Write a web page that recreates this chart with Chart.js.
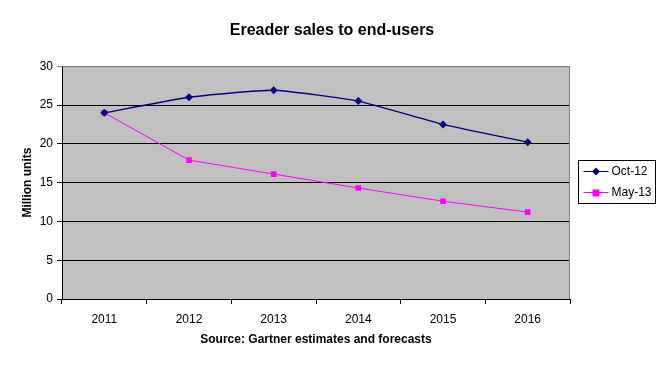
<!DOCTYPE html>
<html>
<head>
<meta charset="utf-8">
<script src="https://cdn.jsdelivr.net/npm/chart.js@4/dist/chart.umd.min.js"></script>
<style>
  html, body { margin: 0; padding: 0; background: #fff; }
  #wrap { width: 664px; height: 365px; }
</style>
</head>
<body>
<div id="wrap"><canvas id="ereader" width="664" height="365"></canvas></div>
<script>
// data
const years = ['2011', '2012', '2013', '2014', '2015', '2016'];
const oct12 = [24.0, 26.0, 26.9, 25.5, 22.5, 20.2];
const may13 = [24.0, 17.9, 16.1, 14.3, 12.6, 11.2];
const seriesNames = ['Oct-12', 'May-13'];
const seriesColors = ['#000080', '#FF00FF'];
const markerShapes = ['rectRot', 'rect'];

const font = '"Liberation Sans", Arial, sans-serif';

// gray plot background + frame, and the boxed legend on the right
const excelLook = {
  id: 'excelLook',
  beforeDraw(chart) {
    const a = chart.chartArea, c = chart.ctx;
    c.save();
    c.fillStyle = '#C0C0C0';
    c.fillRect(a.left, a.top, a.right - a.left, a.bottom - a.top);
    c.restore();
  },
  afterDatasetsDraw(chart) {
    const a = chart.chartArea, c = chart.ctx;
    c.save();
    c.strokeStyle = '#808080';
    c.lineWidth = 1;
    c.beginPath();
    c.moveTo(a.left, a.top + 0.5);
    c.lineTo(a.right - 0.5, a.top + 0.5);
    c.lineTo(a.right - 0.5, a.bottom);
    c.stroke();
    c.restore();
  },
  afterDraw(chart) {
    const c = chart.ctx;
    const bx = 578.5, by = 160.5, bw = 77, bh = 43;
    c.save();
    c.strokeStyle = '#000';
    c.lineWidth = 1;
    c.strokeRect(bx, by, bw, bh);
    c.font = '12px ' + font;
    c.textBaseline = 'middle';
    seriesNames.forEach((name, i) => {
      const y = by + 11 + i * 21;
      c.strokeStyle = seriesColors[i];
      c.beginPath();
      c.moveTo(bx + 5, y);
      c.lineTo(bx + 30, y);
      c.stroke();
      c.fillStyle = seriesColors[i];
      if (markerShapes[i] === 'rect') {
        c.fillRect(bx + 14, y - 3, 7, 7);
      } else {
        c.beginPath();
        c.moveTo(bx + 17.5, y - 4);
        c.lineTo(bx + 21.5, y);
        c.lineTo(bx + 17.5, y + 4);
        c.lineTo(bx + 13.5, y);
        c.closePath();
        c.fill();
      }
      c.fillStyle = '#000';
      c.fillText(name, bx + 33, y);
    });
    c.restore();
  }
};

new Chart(document.getElementById('ereader').getContext('2d'), {
  type: 'line',
  data: {
    labels: years,
    datasets: [{
      label: seriesNames[0],
      data: oct12,
      borderColor: seriesColors[0],
      backgroundColor: seriesColors[0],
      borderWidth: 1.3,
      tension: 0.15,
      pointStyle: markerShapes[0],
      pointRadius: 4,
      pointBorderWidth: 0
    }, {
      label: seriesNames[1],
      data: may13,
      borderColor: seriesColors[1],
      backgroundColor: seriesColors[1],
      borderWidth: 1,
      tension: 0,
      pointStyle: markerShapes[1],
      pointRadius: 4,
      pointBorderWidth: 0
    }]
  },
  options: {
    responsive: false,
    animation: false,
    layout: { padding: { left: 0, right: 0, top: 0, bottom: 18 } },
    plugins: {
      legend: { display: false },
      tooltip: { enabled: false },
      title: {
        display: true,
        text: 'Ereader sales to end-users',
        color: '#000',
        font: { family: font, size: 16, weight: 'bold' },
        padding: { top: 21, bottom: 26 }
      }
    },
    scales: {
      x: {
        offset: true,
        grid: {
          offset: true,
          drawOnChartArea: false,
          color: '#000',
          tickLength: 5
        },
        border: { color: '#000' },
        ticks: {
          color: '#000',
          padding: 8,
          font: { family: font, size: 12 }
        },
        title: {
          display: true,
          text: 'Source: Gartner estimates and forecasts',
          color: '#000',
          font: { family: font, size: 12, weight: 'bold' },
          padding: { top: 4, bottom: 0 }
        },
        afterFit(s) { s.height = 48; }
      },
      y: {
        min: 0,
        max: 30,
        ticks: {
          stepSize: 5,
          color: '#000',
          padding: 4,
          font: { family: font, size: 12 }
        },
        grid: {
          color: (ctx) => (ctx.tick && ctx.tick.value === 30 ? '#808080' : '#000'),
          tickLength: 5
        },
        border: { color: '#000' },
        title: {
          display: true,
          text: 'Million units',
          color: '#000',
          font: { family: font, size: 12, weight: 'bold' },
          padding: { top: 20, bottom: 8 }
        },
        afterFit(s) { s.width = 62; }
      },
      // empty spacer on the right that leaves room for the legend box
      spacer: {
        type: 'linear',
        position: 'right',
        grid: { display: false },
        ticks: { display: false },
        border: { display: false },
        afterFit(s) { s.width = 94; }
      }
    }
  },
  plugins: [excelLook]
});
</script>
</body>
</html>
